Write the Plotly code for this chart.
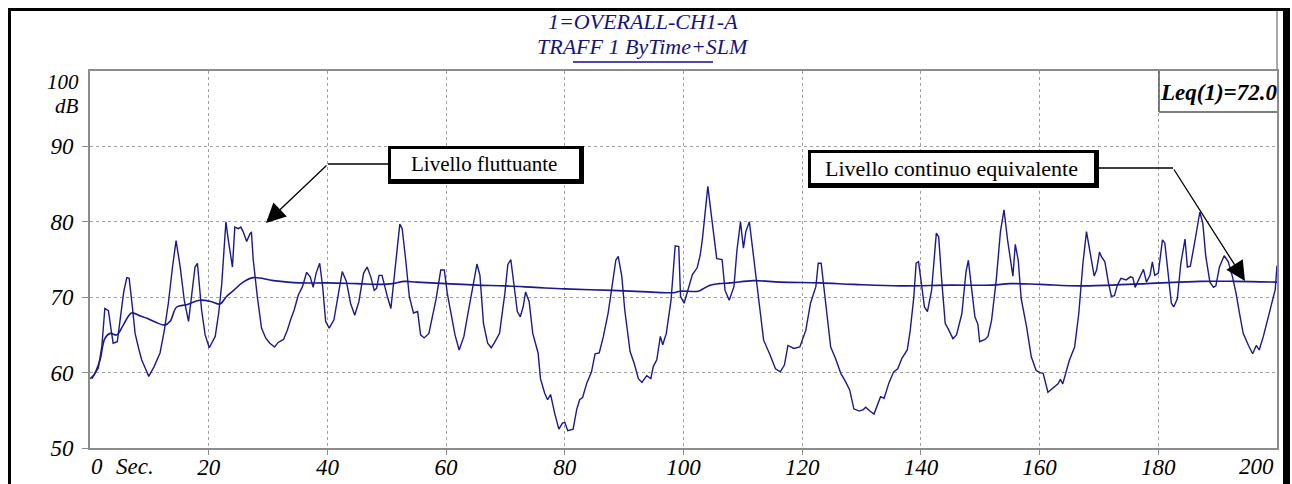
import plotly.graph_objects as go

# ---- data ----
time_s = [0.0, 0.6, 1.4, 2.0, 2.5, 3.1, 3.5, 3.9, 4.6, 5.2, 5.7, 6.2, 6.6, 7.1, 7.6, 8.2, 8.7, 9.3, 9.9, 10.8,
          11.8, 12.5, 13.2, 13.9, 14.5, 15.2, 15.9, 16.6, 17.2, 17.7, 18.1, 18.8, 19.4, 20.1, 21.1, 21.7, 22.2, 22.6, 22.9, 23.3,
          23.7, 24.0, 24.4, 25.0, 25.4, 25.8, 26.4, 27.0, 27.2, 27.5, 28.2, 28.9, 29.6, 30.3, 31.1, 31.7, 32.6, 33.2, 33.8, 34.4,
          35.1, 35.8, 36.5, 37.1, 37.6, 38.1, 38.7, 39.2, 39.7, 40.3, 41.1, 41.8, 42.5, 43.2, 43.9, 44.6, 45.3, 46.1, 46.7, 47.3,
          47.9, 48.3, 48.7, 49.2, 49.6, 50.1, 50.7, 51.2, 51.8, 52.2, 52.6, 53.2, 53.8, 54.5, 55.2, 55.7, 56.3, 57.1, 57.7, 58.3,
          59.1, 59.7, 60.2, 60.8, 61.5, 62.2, 63.0, 63.6, 64.2, 65.2, 65.7, 66.3, 67.0, 67.6, 68.1, 69.0, 69.9, 70.4, 70.9, 71.4,
          72.0, 72.5, 73.0, 73.4, 74.0, 74.6, 75.5, 75.9, 76.6, 77.1, 77.6, 78.3, 79.0, 79.6, 80.0, 80.5, 81.4, 82.0, 82.5, 83.0,
          83.7, 84.5, 85.1, 85.8, 86.5, 87.3, 88.1, 88.6, 89.0, 89.6, 90.1, 91.0, 91.7, 92.4, 93.0, 93.8, 94.5, 94.9, 95.5, 96.1,
          96.5, 97.1, 97.9, 98.6, 99.2, 99.5, 100.1, 100.8, 101.5, 102.3, 102.8, 103.2, 103.7, 104.1, 104.8, 105.6, 106.5, 107.0, 107.7, 108.5,
          109.0, 109.6, 110.1, 110.5, 111.1, 111.8, 112.7, 113.5, 114.5, 115.5, 116.3, 117.0, 117.6, 118.6, 119.6, 120.6, 121.4, 122.3, 122.7, 123.2,
          123.9, 124.8, 125.6, 126.5, 127.3, 128.0, 128.7, 129.6, 130.3, 130.7, 131.4, 132.1, 133.2, 133.8, 134.6, 135.4, 136.1, 136.8, 137.7, 138.2,
          138.8, 139.2, 139.6, 140.2, 140.6, 141.1, 141.8, 142.6, 143.0, 143.5, 144.1, 144.6, 145.4, 146.0, 146.9, 147.6, 148.0, 148.5, 149.1, 149.6,
          149.9, 150.8, 151.3, 151.9, 152.7, 153.4, 154.0, 154.6, 155.3, 155.5, 155.9, 156.4, 156.9, 157.8, 158.6, 159.4, 160.0, 160.6, 161.4, 162.2,
          163.1, 163.5, 163.9, 165.0, 165.9, 166.6, 167.3, 167.9, 168.5, 169.2, 169.6, 170.1, 170.4, 171.0, 171.6, 172.1, 172.6, 173.1, 173.7, 174.6,
          175.3, 175.7, 176.1, 176.8, 177.5, 178.0, 178.6, 179.0, 179.4, 180.0, 180.4, 180.7, 181.1, 181.7, 182.2, 182.6, 183.2, 183.8, 184.5, 184.9,
          185.4, 186.2, 187.0, 187.5, 188.0, 188.7, 189.3, 189.7, 190.3, 191.1, 191.8, 192.5, 193.1, 193.7, 194.3, 195.2, 195.9, 196.5, 197.0, 197.7,
          198.4, 199.1, 199.7, 200.0]
level_db = [59.2, 59.6, 60.6, 63.5, 68.5, 68.2, 66.0, 63.9, 64.1, 67.5, 70.8, 72.6, 72.5, 69.0, 65.2, 63.2, 61.7, 60.6, 59.5, 60.8,
            62.6, 65.5, 69.2, 74.0, 77.5, 74.0, 69.5, 66.8, 70.5, 74.0, 74.5, 68.3, 65.0, 63.3, 64.8, 68.0, 71.8, 76.5, 80.0, 77.6,
            75.5, 74.0, 79.3, 79.1, 79.3, 78.7, 77.4, 78.5, 78.6, 75.0, 70.0, 65.9, 64.6, 63.9, 63.4, 64.0, 64.4, 65.5, 67.0, 68.3,
            70.3, 71.4, 73.3, 72.7, 71.3, 73.2, 74.5, 71.4, 66.8, 65.9, 67.0, 70.5, 73.4, 72.1, 69.2, 67.6, 69.4, 73.2, 74.0, 72.7,
            70.9, 71.2, 72.9, 72.9, 71.5, 70.1, 68.5, 71.9, 76.7, 79.7, 79.1, 74.9, 70.1, 67.9, 68.1, 65.0, 64.6, 65.2, 67.5, 69.7,
            73.6, 73.6, 70.5, 67.9, 65.0, 63.0, 64.8, 67.5, 70.1, 74.4, 72.9, 66.5, 63.9, 63.3, 63.9, 65.2, 70.5, 74.3, 75.0, 71.9,
            68.1, 67.4, 68.8, 70.7, 69.4, 65.2, 62.6, 59.2, 57.3, 56.4, 57.1, 54.6, 52.5, 53.3, 53.4, 52.3, 52.5, 55.1, 56.4, 56.7,
            58.6, 60.1, 62.5, 62.6, 64.8, 67.9, 72.3, 74.9, 75.4, 72.8, 68.3, 62.8, 61.2, 59.2, 58.7, 59.6, 59.2, 60.8, 61.7, 64.8,
            63.7, 65.2, 69.6, 76.8, 76.7, 70.1, 69.2, 71.2, 73.0, 73.9, 75.5, 77.8, 81.5, 84.7, 80.2, 75.1, 75.0, 70.9, 69.6, 71.4,
            76.2, 80.0, 76.5, 78.7, 80.0, 75.4, 69.2, 64.3, 62.5, 60.5, 60.1, 61.0, 63.6, 63.2, 63.4, 65.6, 69.2, 71.4, 74.5, 74.5,
            69.6, 63.4, 61.9, 59.9, 58.8, 57.7, 55.2, 54.9, 55.1, 55.4, 54.9, 54.5, 56.8, 56.6, 58.6, 60.1, 60.5, 61.9, 63.0, 65.6,
            70.0, 74.5, 74.7, 70.9, 68.7, 68.1, 70.9, 78.5, 78.0, 72.3, 66.5, 65.8, 64.5, 65.0, 67.8, 73.4, 74.9, 71.4, 67.4, 66.4,
            64.1, 64.4, 64.8, 66.9, 72.3, 78.7, 81.6, 77.6, 73.8, 72.8, 77.0, 74.9, 69.8, 66.1, 62.1, 60.3, 60.0, 59.9, 57.4, 57.9,
            58.5, 59.1, 58.5, 61.6, 63.4, 67.8, 74.5, 78.7, 75.8, 72.8, 73.6, 76.0, 75.4, 74.7, 71.9, 70.1, 70.2, 71.6, 72.5, 72.3,
            72.7, 72.6, 71.3, 72.5, 73.7, 72.0, 72.9, 74.7, 72.9, 73.2, 75.6, 77.6, 77.2, 72.3, 69.2, 68.7, 69.8, 74.5, 77.7, 74.0,
            74.1, 77.6, 81.3, 79.8, 75.4, 72.0, 71.3, 71.5, 74.0, 75.5, 74.7, 72.7, 70.5, 67.8, 65.2, 63.6, 62.5, 63.6, 63.0, 64.8,
            66.9, 69.2, 71.0, 74.2]

leq_time_s = [0.3, 1.0, 1.7, 2.5, 3.4, 4.5, 5.6, 7.0, 8.5, 9.6, 11.0, 12.6, 13.5, 14.6, 16.3, 18.5, 20.5, 21.9, 23.0, 24.2,
              25.8, 27.5, 30.9, 35.4, 40.0, 45.0, 49.0, 51.0, 53.0, 55.0, 60.0, 65.0, 70.0, 75.0, 80.0, 88.0, 94.0, 98.3, 99.4, 102.5,
              103.5, 104.5, 106.0, 108.0, 111.8, 116.3, 123.0, 128.7, 136.6, 145.0, 152.0, 155.0, 160.0, 167.0, 178.0, 187.0, 193.0, 200.0]
leq_db = [59.2, 60.2, 61.7, 64.5, 65.2, 65.0, 66.3, 67.9, 67.5, 67.2, 66.7, 66.3, 66.8, 68.7, 69.0, 69.6, 69.4, 69.1, 70.1, 70.9,
          72.0, 72.6, 72.2, 71.9, 71.9, 71.8, 71.7, 71.8, 72.1, 72.0, 71.8, 71.6, 71.5, 71.3, 71.1, 70.9, 70.7, 70.6, 70.8, 70.8,
          71.2, 71.6, 71.8, 71.9, 72.2, 72.0, 71.9, 71.7, 71.5, 71.6, 71.6, 71.8, 71.7, 71.5, 71.8, 72.1, 72.1, 72.0]

x_ticks = [20, 40, 60, 80, 100, 120, 140, 160, 180]
y_ticks = [50, 60, 70, 80, 90]
title_lines = ["1=OVERALL-CH1-A", "TRAFF 1 ByTime+SLM"]
leq_label = "Leq(1)=72.0"
label_fluct = "Livello fluttuante"
label_cont = "Livello continuo equivalente"

# ---- layout helpers (pixel -> paper) ----
FW, FH = 1292, 484
L, R, T, B = 90, 1277, 71, 448
W, H = R - L, B - T


def px(x):
    return (x - L) / W


def py(y):
    return (B - y) / H


SERIF = "Liberation Serif"
NAVY = "#1a1a8c"
GRAY = "#8c8c8c"

fig = go.Figure()
fig.add_trace(go.Scatter(x=time_s, y=level_db, mode="lines",
                         line=dict(color=NAVY, width=1.4), hoverinfo="skip", showlegend=False))
fig.add_trace(go.Scatter(x=leq_time_s, y=leq_db, mode="lines",
                         line=dict(color=NAVY, width=1.6, shape="spline"), hoverinfo="skip", showlegend=False))

tickfont = dict(family=SERIF, size=23, color="black", style="italic")
fig.update_xaxes(range=[0, 200], tickvals=x_ticks, ticktext=[str(v) for v in x_ticks],
                 showgrid=True, gridcolor="#a0a0a0", griddash="dot", gridwidth=1,
                 showline=True, mirror=True, linecolor=GRAY, linewidth=2, automargin=False,
                 ticks="outside", ticklen=5, tickcolor=GRAY, tickfont=tickfont, zeroline=False,
                 ticklabelstandoff=-8)
fig.update_yaxes(range=[50, 100], tickvals=y_ticks, ticktext=[str(v) for v in y_ticks],
                 showgrid=True, gridcolor="#a0a0a0", griddash="dot", gridwidth=1,
                 showline=True, mirror=True, linecolor=GRAY, linewidth=2, automargin=False,
                 ticks="outside", ticklen=6, tickcolor=GRAY, tickfont=tickfont, zeroline=False,
                 ticklabelstandoff=4)

shapes = []
# outer frame
shapes.append(dict(type="rect", xref="paper", yref="paper", x0=px(9.5), x1=px(1285), y0=py(9.5), y1=py(520),
                   line=dict(color="black", width=3)))
shapes.append(dict(type="rect", xref="paper", yref="paper", x0=px(1283), x1=px(1290), y0=py(8), y1=py(520),
                   line=dict(width=0), fillcolor="black"))
# vertical gray line above plot at right edge
shapes.append(dict(type="line", xref="paper", yref="paper", x0=px(1277), x1=px(1277), y0=py(11), y1=py(71),
                   line=dict(color=GRAY, width=1.5)))
# title underline
shapes.append(dict(type="line", xref="paper", yref="paper", x0=px(573), x1=px(713), y0=py(62), y1=py(62),
                   line=dict(color="#4c4cb0", width=2)))
# Leq box
shapes.append(dict(type="line", xref="paper", yref="paper", x0=px(1159), x1=px(1159), y0=py(71), y1=py(112),
                   line=dict(color="#555555", width=1.5)))
shapes.append(dict(type="line", xref="paper", yref="paper", x0=px(1159), x1=px(1277), y0=py(112), y1=py(112),
                   line=dict(color="#555555", width=1.5)))
# annotation boxes (black shadow + white inner)
for (x0, y0, x1, y1) in [(388, 146, 584, 184), (808, 150, 1099, 188)]:
    shapes.append(dict(type="rect", xref="paper", yref="paper", x0=px(x0), x1=px(x1), y0=py(y0), y1=py(y1),
                       line=dict(width=0), fillcolor="black"))
    shapes.append(dict(type="rect", xref="paper", yref="paper", x0=px(x0 + 3), x1=px(x1 - 5), y0=py(y0 + 3),
                       y1=py(y1 - 5), line=dict(width=0), fillcolor="white"))
# horizontal leader segments
shapes.append(dict(type="line", xref="paper", yref="paper", x0=px(328), x1=px(388), y0=py(164), y1=py(164),
                   line=dict(color="black", width=1.5)))
shapes.append(dict(type="line", xref="paper", yref="paper", x0=px(1099), x1=px(1173), y0=py(168), y1=py(168),
                   line=dict(color="black", width=1.5)))

annotations = []
tfont = dict(family=SERIF, size=22, color="#14147a", style="italic")
annotations.append(dict(text=title_lines[0], xref="paper", yref="paper", x=px(643), y=py(22),
                        xanchor="center", yanchor="middle", showarrow=False, font=tfont))
annotations.append(dict(text=title_lines[1], xref="paper", yref="paper", x=px(643), y=py(47),
                        xanchor="center", yanchor="middle", showarrow=False, font=tfont))
annotations.append(dict(text=leq_label, xref="paper", yref="paper", x=px(1218), y=py(93),
                        xanchor="center", yanchor="middle", showarrow=False,
                        font=dict(family=SERIF, size=23, color="black", style="italic", weight="bold")))
annotations.append(dict(text=label_fluct, xref="paper", yref="paper", x=px(484), y=py(164),
                        xanchor="center", yanchor="middle", showarrow=False,
                        font=dict(family=SERIF, size=21, color="black")))
annotations.append(dict(text=label_cont, xref="paper", yref="paper", x=px(951), y=py(168),
                        xanchor="center", yanchor="middle", showarrow=False,
                        font=dict(family=SERIF, size=22, color="black")))
# arrows
annotations.append(dict(text="", xref="paper", yref="paper", x=px(266), y=py(223), ax=62, ay=-59,
                        showarrow=True, arrowhead=2, arrowsize=3, arrowwidth=1.3, arrowcolor="black"))
annotations.append(dict(text="", xref="paper", yref="paper", x=px(1245), y=py(281), ax=-72, ay=-113,
                        showarrow=True, arrowhead=2, arrowsize=3, arrowwidth=1.3, arrowcolor="black"))
# axis extra labels
lblfont = dict(family=SERIF, size=21, color="black", style="italic")
annotations.append(dict(text="100", xref="paper", yref="paper", x=px(81), y=py(82),
                        xanchor="right", yanchor="middle", showarrow=False, font=lblfont))
annotations.append(dict(text="dB", xref="paper", yref="paper", x=px(81), y=py(106),
                        xanchor="right", yanchor="middle", showarrow=False, font=lblfont))
annotations.append(dict(text="0", xref="paper", yref="paper", x=px(89), y=py(466),
                        xanchor="left", yanchor="middle", showarrow=False, font=tickfont))
annotations.append(dict(text="Sec.", xref="paper", yref="paper", x=px(114), y=py(466),
                        xanchor="left", yanchor="middle", showarrow=False, font=tickfont))
annotations.append(dict(text="200", xref="paper", yref="paper", x=px(1276), y=py(466),
                        xanchor="right", yanchor="middle", showarrow=False, font=tickfont))

fig.update_layout(width=FW, height=FH, margin=dict(l=L, r=FW - R, t=T, b=FH - B, autoexpand=False),
                  paper_bgcolor="white", plot_bgcolor="white",
                  shapes=shapes, annotations=annotations, showlegend=False)

fig.write_html("out.html", config={"displayModeBar": False},
               post_script="document.documentElement.style.margin='0';document.body.style.margin='0';"
                           "document.body.style.padding='0';document.documentElement.style.overflow='hidden';")
